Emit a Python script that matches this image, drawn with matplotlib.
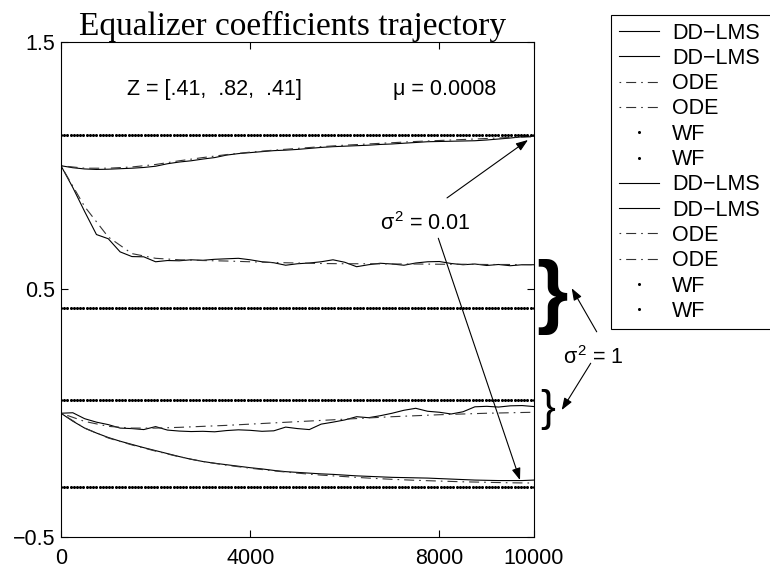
import numpy as np
import matplotlib
matplotlib.use("Agg")
import matplotlib.pyplot as plt

plt.rcParams["font.family"] = ["Liberation Sans", "DejaVu Sans"]
plt.rcParams["mathtext.fontset"] = "custom"
plt.rcParams["mathtext.rm"] = "Liberation Sans"
plt.rcParams["mathtext.it"] = "Liberation Sans"
plt.rcParams["lines.scale_dashes"] = False

# iteration grids
iters = np.arange(0, 10001, 250)
iters_ode = np.arange(0, 10001, 500)
iters_wf = np.arange(0, 10001, 68)

# sigma^2 = 0.01 : DD-LMS trajectories
dd_a = [1.000, 0.992, 0.987, 0.985, 0.986, 0.988, 0.990, 0.993, 0.998, 1.008,
        1.015, 1.020, 1.027, 1.033, 1.043, 1.049, 1.053, 1.057, 1.061, 1.063,
        1.066, 1.070, 1.074, 1.077, 1.079, 1.081, 1.083, 1.086, 1.088, 1.091,
        1.094, 1.097, 1.098, 1.099, 1.100, 1.101, 1.104, 1.108, 1.112, 1.117,
        1.120]
dd_b = [1.000, 0.912, 0.815, 0.722, 0.705, 0.652, 0.633, 0.632, 0.612, 0.617,
        0.616, 0.620, 0.618, 0.622, 0.624, 0.626, 0.620, 0.612, 0.608, 0.598,
        0.604, 0.607, 0.612, 0.620, 0.610, 0.592, 0.600, 0.606, 0.603, 0.598,
        0.607, 0.612, 0.613, 0.605, 0.600, 0.603, 0.597, 0.601, 0.596, 0.600,
        0.600]
# sigma^2 = 1 : DD-LMS trajectories
dd_c = [0.000, 0.002, -0.022, -0.036, -0.046, -0.060, -0.062, -0.066, -0.054, -0.068,
        -0.072, -0.074, -0.073, -0.075, -0.070, -0.067, -0.069, -0.073, -0.071, -0.056,
        -0.062, -0.066, -0.044, -0.036, -0.027, -0.014, -0.018, -0.010, 0.000, 0.012,
        0.020, 0.008, 0.004, -0.003, 0.006, 0.026, 0.028, 0.025, 0.030, 0.031,
        0.027]
dd_d = [0.000, -0.032, -0.060, -0.080, -0.098, -0.113, -0.126, -0.139, -0.151, -0.163,
        -0.175, -0.186, -0.195, -0.202, -0.208, -0.214, -0.220, -0.225, -0.231, -0.236,
        -0.239, -0.242, -0.245, -0.247, -0.250, -0.253, -0.255, -0.257, -0.259, -0.260,
        -0.261, -0.262, -0.264, -0.266, -0.268, -0.270, -0.271, -0.272, -0.272, -0.272,
        -0.270]

# ODE approximations
ode_a = [1.000, 0.990, 0.990, 0.995, 1.005, 1.020, 1.033, 1.045, 1.055, 1.063,
         1.070, 1.077, 1.083, 1.088, 1.093, 1.098, 1.102, 1.106, 1.110, 1.114, 1.117]
ode_b = [1.000, 0.835, 0.712, 0.645, 0.626, 0.620, 0.617, 0.615, 0.612, 0.609,
         0.607, 0.605, 0.604, 0.604, 0.603, 0.603, 0.602, 0.602, 0.601, 0.601, 0.600]
ode_c = [0.000, -0.033, -0.053, -0.060, -0.060, -0.057, -0.053, -0.049, -0.044, -0.039,
         -0.034, -0.029, -0.024, -0.019, -0.014, -0.010, -0.006, -0.003, 0.000, 0.002, 0.004]
ode_d = [0.000, -0.060, -0.100, -0.128, -0.153, -0.176, -0.195, -0.210, -0.222, -0.233,
         -0.242, -0.250, -0.256, -0.262, -0.267, -0.271, -0.274, -0.277, -0.279, -0.281, -0.282]

# Wiener filter solutions
wf_vals = [1.125, 0.425, 0.053, -0.297]

fig = plt.figure(figsize=(7.7, 5.72), dpi=100)
ax = fig.add_axes([0.0792, 0.0612, 0.6143, 0.8654])

dd_style = dict(color="k", lw=0.8, ls="-")
ode_style = dict(color="#333333", lw=0.8, ls=(0, (1.2, 3.6, 7.2, 3.6)))
wf_style = dict(color="k", ls="none", marker=".", ms=4.4, mew=0)

h_dd_a, = ax.plot(iters, dd_a, **dd_style)
h_dd_b, = ax.plot(iters, dd_b, **dd_style)
h_ode_a, = ax.plot(iters_ode, ode_a, **ode_style)
h_ode_b, = ax.plot(iters_ode, ode_b, **ode_style)
h_wf = []
for v in wf_vals:
    h, = ax.plot(iters_wf, np.full(len(iters_wf), v), **wf_style)
    h_wf.append(h)
h_dd_c, = ax.plot(iters, dd_c, **dd_style)
h_dd_d, = ax.plot(iters, dd_d, **dd_style)
h_ode_c, = ax.plot(iters_ode, ode_c, **ode_style)
h_ode_d, = ax.plot(iters_ode, ode_d, **ode_style)

ax.set_xlim(0, 10000)
ax.set_ylim(-0.5, 1.5)
ax.set_xticks([0, 4000, 8000, 10000])
ax.set_yticks([-0.5, 0.5, 1.5])
ax.set_yticklabels(["\u22120.5", "0.5", "1.5"])
ax.tick_params(direction="in", length=5, width=0.8, top=True, right=True, labelsize=15.5)
ax.tick_params(axis="x", pad=8)
ax.tick_params(axis="y", pad=4)
for s in ax.spines.values():
    s.set_linewidth(0.8)

ax.set_title("Equalizer coefficients trajectory", family="Liberation Serif",
             fontsize=24, pad=5, x=0.49)

ax.text(1395, 1.286, "Z = [.41,  .82,  .41]", fontsize=15.5, va="baseline")
ax.text(7019, 1.286, "\u03bc = 0.0008", fontsize=15.5, va="baseline")
ax.text(6744, 0.740, r"$\sigma^2$ = 0.01", fontsize=15.5, va="baseline")
ax.text(10613, 0.199, r"$\sigma^2$ = 1", fontsize=15.5, va="baseline", clip_on=False)

# braces grouping the sigma^2 = 1 curves
ax.text(10381, 0.468, "}", fontsize=58, fontweight="bold", ha="center", va="center",
        clip_on=False)
ax.text(10296, 0.017, "}", fontsize=32, ha="center", va="center", clip_on=False)

arrow = dict(arrowstyle="-|>,head_length=0.6,head_width=0.22", color="k", lw=0.8,
             mutation_scale=12, shrinkA=0, shrinkB=0)
ax.annotate("", xy=(9873, 1.104), xytext=(8161, 0.870), arrowprops=arrow,
            annotation_clip=False)
ax.annotate("", xy=(9704, -0.270), xytext=(7977, 0.707), arrowprops=arrow,
            annotation_clip=False)
ax.annotate("", xy=(10797, 0.505), xytext=(11326, 0.329), arrowprops=arrow,
            annotation_clip=False)
ax.annotate("", xy=(10586, 0.013), xytext=(11199, 0.202), arrowprops=arrow,
            annotation_clip=False)

handles = [h_dd_a, h_dd_b, h_ode_a, h_ode_b, h_wf[0], h_wf[1],
           h_dd_c, h_dd_d, h_ode_c, h_ode_d, h_wf[2], h_wf[3]]
labels = ["DD\u2212LMS", "DD\u2212LMS", "ODE", "ODE", "WF", "WF"] * 2
leg = ax.legend(handles, labels, loc="upper left", mode="expand",
                bbox_to_anchor=(611 / 770, 0, 175 / 770, 1 - 15 / 572),
                bbox_transform=fig.transFigure, borderaxespad=0, fontsize=15.5,
                fancybox=False, edgecolor="k", framealpha=1, numpoints=1,
                handlelength=1.9, handletextpad=0.6, labelspacing=0.2, borderpad=0.35)
leg.get_frame().set_linewidth(0.8)

fig.savefig("out.png", dpi=100)
